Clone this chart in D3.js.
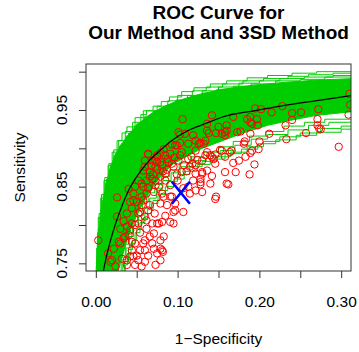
<!DOCTYPE html>
<html>
<head>
<meta charset="utf-8">
<script src="https://cdn.jsdelivr.net/npm/d3@7"></script>
<style>
  body { margin: 0; background: #fff; }
  svg { display: block; font-family: "Liberation Sans", Arial, Helvetica, sans-serif; }
</style>
</head>
<body>
<div id="chart"></div>
<script>
// --------------------------------------------------
// data

const titleLines = ['ROC Curve for', 'Our Method and 3SD Method'];
const xLabel = '1\u2212Specificity';
const yLabel = 'Sensitivity';

const xTicks = [0, 0.05, 0.10, 0.15, 0.20, 0.25, 0.30];
const xTickLabels = ['0.00', '', '0.10', '', '0.20', '', '0.30'];
const yTicks = [0.75, 0.80, 0.85, 0.90, 0.95, 1.00];
const yTickLabels = ['0.75', '', '0.85', '', '0.95', ''];

// dense core of the bootstrap ROC curves (outer = upper-left edge, inner = lower-right edge)
const bandOuter = [[0.000,0.735],[0.003,0.78],[0.005,0.80],[0.008,0.825],[0.012,0.85],[0.017,0.872],
  [0.023,0.89],[0.030,0.903],[0.040,0.918],[0.052,0.932],[0.066,0.944],[0.082,0.954],[0.100,0.962],
  [0.125,0.970],[0.155,0.977],[0.19,0.982],[0.23,0.986],[0.27,0.989],[0.315,0.991]];
const bandInner = [[0.026,0.735],[0.030,0.75],[0.034,0.765],[0.038,0.78],[0.043,0.795],[0.049,0.81],
  [0.056,0.825],[0.064,0.84],[0.073,0.855],[0.083,0.868],[0.095,0.880],[0.11,0.889],[0.13,0.900],
  [0.155,0.910],[0.18,0.920],[0.21,0.930],[0.24,0.937],[0.27,0.943],[0.315,0.948]];

// single ROC curves at the fringe of the band
const rocCurves = [
  [[0,0.74],[0.002,0.78],[0.003,0.81],[0.006,0.835],[0.010,0.858],[0.015,0.878],[0.020,0.895],[0.026,0.910],
   [0.032,0.920],[0.038,0.928],[0.048,0.940],[0.058,0.949],[0.070,0.955],[0.080,0.961],[0.090,0.967],
   [0.105,0.974],[0.120,0.979],[0.140,0.984],[0.160,0.988],[0.185,0.992],[0.210,0.995],[0.240,0.998],
   [0.27,1.0],[0.32,1.0]],
  [[0,0.75],[0.002,0.79],[0.004,0.815],[0.007,0.84],[0.011,0.862],[0.016,0.88],[0.022,0.898],[0.028,0.91],
   [0.036,0.922],[0.045,0.934],[0.055,0.944],[0.062,0.949],[0.075,0.955],[0.088,0.962],[0.100,0.969],[0.118,0.975],
   [0.135,0.980],[0.155,0.984],[0.180,0.988],[0.205,0.991],[0.235,0.994],[0.26,0.996],[0.29,0.998],[0.32,0.998]],
  [[0,0.745],[0.002,0.785],[0.005,0.81],[0.008,0.832],[0.012,0.855],[0.017,0.873],[0.022,0.889],[0.029,0.903],
   [0.037,0.916],[0.047,0.929],[0.058,0.940],[0.070,0.948],[0.086,0.956],[0.098,0.963],[0.112,0.969],
   [0.130,0.975],[0.150,0.980],[0.175,0.985],[0.200,0.988],[0.225,0.991],[0.255,0.993],[0.29,0.995],[0.32,0.996]],
  [[0,0.74],[0.001,0.77],[0.003,0.795],[0.006,0.82],[0.009,0.84],[0.013,0.86],[0.018,0.878],[0.024,0.893],
   [0.031,0.906],[0.040,0.92],[0.050,0.932],[0.060,0.942],[0.072,0.949],[0.086,0.956],[0.100,0.962],
   [0.115,0.967],[0.130,0.972],[0.148,0.977],[0.168,0.981],[0.19,0.984],[0.22,0.988],[0.25,0.990],[0.28,0.993],[0.32,0.994]],
  [[0.028,0.735],[0.033,0.755],[0.037,0.77],[0.041,0.785],[0.046,0.80],[0.052,0.812],[0.058,0.822],[0.066,0.835],
   [0.074,0.848],[0.082,0.858],[0.092,0.868],[0.103,0.876],[0.118,0.884],[0.135,0.890],[0.152,0.897],
   [0.170,0.904],[0.19,0.912],[0.21,0.918],[0.235,0.924],[0.26,0.930],[0.285,0.934],[0.32,0.938]],
  [[0.03,0.735],[0.035,0.752],[0.040,0.768],[0.045,0.78],[0.050,0.795],[0.056,0.808],[0.063,0.82],[0.070,0.832],
   [0.078,0.845],[0.088,0.857],[0.100,0.866],[0.115,0.876],[0.130,0.883],[0.148,0.889],[0.165,0.895],
   [0.185,0.902],[0.205,0.909],[0.225,0.915],[0.250,0.920],[0.275,0.926],[0.300,0.929],[0.32,0.932]],
  [[0.027,0.735],[0.031,0.758],[0.036,0.775],[0.040,0.79],[0.045,0.805],[0.051,0.818],[0.057,0.83],[0.064,0.842],
   [0.072,0.853],[0.080,0.863],[0.090,0.872],[0.102,0.881],[0.116,0.889],[0.132,0.895],[0.150,0.902],
   [0.168,0.909],[0.188,0.916],[0.208,0.922],[0.230,0.929],[0.255,0.934],[0.28,0.938],[0.32,0.942]],
  [[0.032,0.735],[0.036,0.748],[0.039,0.762],[0.043,0.776],[0.048,0.79],[0.054,0.803],[0.060,0.815],[0.068,0.828],
   [0.076,0.84],[0.085,0.85],[0.096,0.860],[0.108,0.870],[0.124,0.879],[0.140,0.886],[0.158,0.893],
   [0.178,0.899],[0.198,0.906],[0.22,0.911],[0.245,0.917],[0.27,0.921],[0.30,0.925],[0.32,0.928]]
];

// smooth summary curve
const rocX = [0.005, 0.0093, 0.0175, 0.0277, 0.040, 0.0603, 0.0787, 0.093, 0.113, 0.1335, 0.154, 0.195, 0.2293, 0.2705, 0.312];
const rocY = [0.712, 0.740, 0.778, 0.8127, 0.845, 0.8778, 0.8973, 0.9103, 0.9233, 0.932, 0.9406, 0.9493, 0.9558, 0.9623, 0.9688];

// 3SD method point
const sdPoint = [0.104, 0.842];

// individual results (1-specificity, sensitivity)
const points = [
  [0.142,0.943],[0.168,0.941],[0.195,0.952],[0.202,0.951],[0.228,0.955],[0.215,0.947],[0.240,0.946],[0.251,0.947],
  [0.272,0.951],[0.297,0.902],[0.233,0.912],[0.257,0.920],[0.271,0.938],[0.273,0.926],[0.271,0.930],[0.232,0.930],
  [0.240,0.937],[0.212,0.919],[0.197,0.938],[0.198,0.930],[0.189,0.934],[0.185,0.938],[0.189,0.919],[0.181,0.906],
  [0.200,0.909],[0.199,0.899],[0.189,0.894],[0.160,0.923],[0.154,0.919],[0.158,0.917],[0.173,0.921],[0.177,0.922],
  [0.160,0.930],[0.150,0.928],[0.136,0.923],[0.134,0.910],[0.132,0.906],[0.128,0.907],[0.136,0.895],[0.140,0.891],
  [0.134,0.891],[0.144,0.886],[0.152,0.898],[0.164,0.895],[0.166,0.897],[0.146,0.892],[0.310,0.971],[0.311,0.957],
  [0.309,0.944],[0.189,0.941],[0.191,0.932],[0.275,0.925],
  [0.106,0.938],[0.136,0.932],[0.147,0.920],[0.158,0.921],[0.182,0.909],[0.122,0.910],[0.126,0.906],[0.101,0.921],
  [0.103,0.907],[0.113,0.906],[0.097,0.904],[0.083,0.899],[0.079,0.882],[0.089,0.882],[0.101,0.884],[0.113,0.886],
  [0.118,0.880],[0.130,0.884],[0.142,0.889],[0.146,0.880],[0.158,0.889],[0.175,0.884],[0.154,0.897],[0.183,0.889],
  [0.191,0.897],[0.075,0.889],[0.091,0.893],[0.122,0.897],[0.138,0.920],[0.103,0.918],[0.119,0.917],[0.109,0.919],
  [0.093,0.905],[0.099,0.904],[0.079,0.894],[0.064,0.892],[0.085,0.891],[0.073,0.884],[0.058,0.871],[0.103,0.891],
  [0.168,0.881],[0.194,0.879],[0.158,0.869],[0.171,0.869],[0.188,0.866],[0.142,0.864],[0.140,0.854],[0.162,0.853],
  [0.130,0.843],[0.147,0.837],[0.146,0.834],[0.128,0.853],[0.130,0.867],[0.136,0.871],
  [0.003,0.780],[0.026,0.811],[0.040,0.847],[0.056,0.854],[0.066,0.863],[0.046,0.832],[0.052,0.815],[0.044,0.802],
  [0.042,0.793],[0.036,0.785],[0.030,0.776],[0.022,0.769],[0.020,0.754],[0.024,0.746],[0.048,0.776],[0.054,0.767],
  [0.042,0.759],[0.052,0.754],[0.075,0.763],[0.081,0.767],[0.069,0.776],[0.079,0.780],[0.071,0.789],[0.062,0.795],
  [0.075,0.802],[0.081,0.804],[0.091,0.804],[0.095,0.802],[0.069,0.802],[0.060,0.811],[0.064,0.819],[0.079,0.828],
  [0.095,0.817],[0.107,0.817],[0.097,0.828],[0.083,0.837],[0.091,0.837],[0.115,0.841],[0.128,0.856],[0.122,0.867],
  [0.115,0.876],[0.079,0.754],[0.026,0.836],[0.038,0.798],[0.028,0.778],[0.034,0.783],[0.040,0.787],[0.015,0.763],
  [0.018,0.752],[0.032,0.756],[0.048,0.800],[0.052,0.802],[0.054,0.817],[0.056,0.826],[0.050,0.830],[0.056,0.837],
  [0.062,0.841],[0.046,0.841],[0.058,0.850],[0.073,0.852],[0.069,0.860],[0.075,0.873],[0.066,0.869],[0.044,0.767],
  [0.058,0.776],[0.060,0.767],[0.071,0.769],[0.073,0.748],[0.060,0.752],[0.048,0.748],[0.038,0.754],[0.046,0.759],
  [0.056,0.746],[0.082,0.765],[0.038,0.748],
  [0.064,0.893],[0.075,0.891],[0.060,0.884],[0.069,0.884],[0.075,0.882],[0.060,0.876],[0.073,0.876],
  [0.081,0.878],[0.093,0.880],[0.122,0.878],[0.130,0.869],[0.128,0.860],[0.119,0.858],[0.113,0.850],[0.122,0.845],
  [0.097,0.819],[0.087,0.826],[0.093,0.837],[0.081,0.841],[0.077,0.802],[0.083,0.785],[0.079,0.769],[0.073,0.858],
  [0.079,0.863],[0.085,0.867],[0.105,0.869],[0.160,0.854],
  [0.062,0.858],[0.070,0.866],[0.087,0.872],[0.095,0.876],[0.099,0.866],[0.108,0.878],[0.111,0.870],[0.117,0.889],
  [0.124,0.885],[0.105,0.895],[0.096,0.888],[0.088,0.886],[0.082,0.870],[0.068,0.877],[0.064,0.848],[0.071,0.843],
  [0.077,0.850],[0.085,0.858],[0.091,0.852],[0.100,0.858],[0.107,0.848],[0.052,0.858],[0.048,0.850],[0.044,0.822],
  [0.058,0.832],[0.066,0.826],[0.072,0.815],[0.085,0.812],[0.062,0.806],[0.034,0.805],[0.030,0.795],[0.038,0.815],
  [0.042,0.830],[0.066,0.785],[0.060,0.780],[0.054,0.790],[0.050,0.760],[0.064,0.760],[0.044,0.778]
];

// --------------------------------------------------

const width = 359, height = 352;
const box = { left: 86, right: 351, top: 64, bottom: 271 };
const green = '#00CD00';

let svg = d3.select('#chart')
  .append('svg')
  .attr('width', width)
  .attr('height', height);

let x = d3.scaleLinear().domain([-0.012, 0.312]).range([box.left, box.right]);
let y = d3.scaleLinear().domain([0.74, 1.01]).range([box.bottom, box.top]);

svg.append('clipPath')
  .attr('id', 'plot-clip')
  .append('rect')
  .attr('x', box.left)
  .attr('y', box.top)
  .attr('width', box.right - box.left)
  .attr('height', box.bottom - box.top);

let plot = svg.append('g').attr('clip-path', 'url(#plot-clip)');

let line = d3.line().x(d => x(d[0])).y(d => y(d[1]));

// green band
plot.append('path')
  .attr('d', line(bandOuter.concat(bandInner.slice().reverse())) + 'Z')
  .attr('fill', green)
  .attr('stroke', green)
  .attr('stroke-width', 1);

plot.selectAll('path.roc')
  .data(rocCurves)
  .enter()
  .append('path')
  .attr('class', 'roc')
  .attr('d', d3.line().x(d => x(d[0])).y(d => y(d[1])).curve(d3.curveStepAfter))
  .attr('fill', 'none')
  .attr('stroke', green)
  .attr('stroke-width', 1);

// red points
plot.selectAll('circle')
  .data(points)
  .enter()
  .append('circle')
  .attr('cx', d => x(d[0]))
  .attr('cy', d => y(d[1]))
  .attr('r', 3.7)
  .attr('fill', 'none')
  .attr('stroke', '#FF0000')
  .attr('stroke-width', 1);

// summary curve
plot.append('path')
  .attr('d', d3.line().x(d => x(d[0])).y(d => y(d[1])).curve(d3.curveMonotoneX)(rocX.map((v, i) => [v, rocY[i]])))
  .attr('fill', 'none')
  .attr('stroke', '#000')
  .attr('stroke-width', 1.2);

// 3SD point, drawn as a cross
let cx = x(sdPoint[0]), cy = y(sdPoint[1]);
[[-1, -1, 1, 1], [-1, 1, 1, -1]].forEach(function (s)
{
  svg.append('line')
    .attr('x1', cx + s[0] * 9).attr('y1', cy + s[1] * 11)
    .attr('x2', cx + s[2] * 9).attr('y2', cy + s[3] * 11)
    .attr('stroke', '#0000FF')
    .attr('stroke-width', 2.6);
});

// box
svg.append('rect')
  .attr('x', box.left)
  .attr('y', box.top)
  .attr('width', box.right - box.left)
  .attr('height', box.bottom - box.top)
  .attr('fill', 'none')
  .attr('stroke', '#333')
  .attr('stroke-width', 1);

// --------------------------------------------------
// axes

let xAxis = svg.append('g')
  .attr('transform', `translate(0,${box.bottom})`)
  .call(d3.axisBottom(x).tickValues(xTicks).tickSize(7).tickPadding(18).tickFormat((d, i) => xTickLabels[i]));

let yAxis = svg.append('g')
  .attr('transform', `translate(${box.left},0)`)
  .call(d3.axisLeft(y).tickValues(yTicks).tickSize(7).tickFormat(''));

[xAxis, yAxis].forEach(function (g)
{
  g.select('.domain').remove();
  g.selectAll('line').attr('stroke', '#333');
  g.selectAll('text').attr('font-size', 15.5).attr('fill', '#000').attr('font-family', null);
});

svg.selectAll('text.ytick')
  .data(yTicks)
  .enter()
  .append('text')
  .attr('class', 'ytick')
  .attr('transform', d => `translate(67,${y(d)}) rotate(-90)`)
  .attr('text-anchor', 'middle')
  .attr('font-size', 15.5)
  .text((d, i) => yTickLabels[i]);

svg.append('text')
  .attr('x', (box.left + box.right) / 2)
  .attr('y', 344)
  .attr('text-anchor', 'middle')
  .attr('font-size', 15.5)
  .text(xLabel);

svg.append('text')
  .attr('transform', `translate(25,${(box.top + box.bottom) / 2}) rotate(-90)`)
  .attr('text-anchor', 'middle')
  .attr('font-size', 15.5)
  .text(yLabel);

svg.selectAll('text.title')
  .data(titleLines)
  .enter()
  .append('text')
  .attr('class', 'title')
  .attr('x', (box.left + box.right) / 2)
  .attr('y', (d, i) => 19 + i * 19.5)
  .attr('text-anchor', 'middle')
  .attr('font-size', 19)
  .attr('font-weight', 'bold')
  .text(d => d);
</script>
</body>
</html>
